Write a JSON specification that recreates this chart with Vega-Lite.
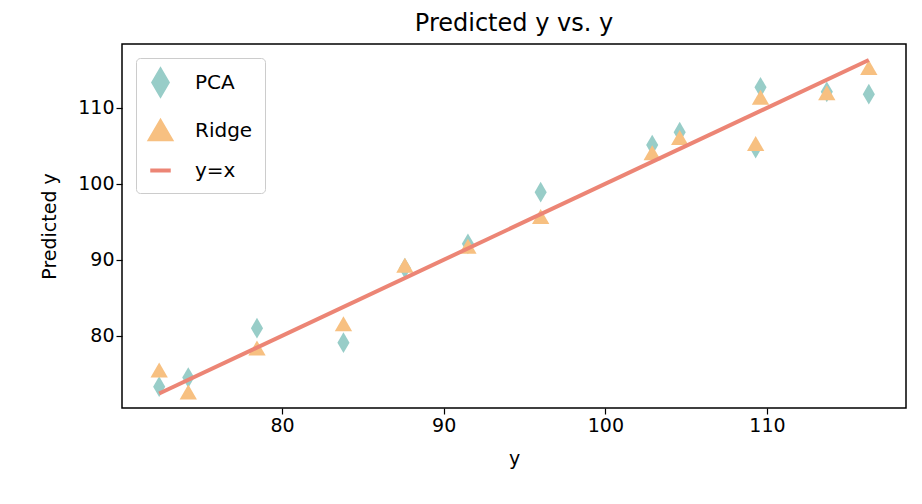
{
  "$schema": "https://vega.github.io/schema/vega-lite/v6.json",
  "autosize": "none",
  "width": 784,
  "height": 364,
  "padding": {"left": 122, "top": 44, "right": 16, "bottom": 96},
  "title": {"text": "Predicted y vs. y", "fontSize": 24, "fontWeight": "normal", "offset": 8},
  "datasets": {
    "pts": [
      {"y": 72.4, "model": "PCA", "pred": 73.3}, {"y": 72.4, "model": "Ridge", "pred": 75.5},
      {"y": 74.2, "model": "PCA", "pred": 74.5}, {"y": 74.2, "model": "Ridge", "pred": 72.6},
      {"y": 78.45, "model": "PCA", "pred": 81.0}, {"y": 78.45, "model": "Ridge", "pred": 78.4},
      {"y": 83.8, "model": "PCA", "pred": 79.1}, {"y": 83.8, "model": "Ridge", "pred": 81.6},
      {"y": 87.6, "model": "PCA", "pred": 88.9}, {"y": 87.6, "model": "Ridge", "pred": 89.3},
      {"y": 91.5, "model": "PCA", "pred": 92.1}, {"y": 91.5, "model": "Ridge", "pred": 91.8},
      {"y": 96.0, "model": "PCA", "pred": 98.9}, {"y": 96.0, "model": "Ridge", "pred": 95.7},
      {"y": 102.9, "model": "PCA", "pred": 105.1}, {"y": 102.9, "model": "Ridge", "pred": 104.1},
      {"y": 104.6, "model": "PCA", "pred": 106.8}, {"y": 104.6, "model": "Ridge", "pred": 106.1},
      {"y": 109.6, "model": "PCA", "pred": 112.7}, {"y": 109.6, "model": "Ridge", "pred": 111.4},
      {"y": 109.3, "model": "PCA", "pred": 104.7}, {"y": 109.3, "model": "Ridge", "pred": 105.3},
      {"y": 113.7, "model": "PCA", "pred": 112.1}, {"y": 113.7, "model": "Ridge", "pred": 112.0},
      {"y": 116.3, "model": "PCA", "pred": 111.8}, {"y": 116.3, "model": "Ridge", "pred": 115.3}
    ],
    "line": [
      {"y": 72.4, "model": "y=x", "pred": 72.4},
      {"y": 116.3, "model": "y=x", "pred": 116.3}
    ]
  },
  "encoding": {
    "x": {"field": "y", "type": "quantitative", "title": "y",
      "scale": {"domain": [70.1, 118.6], "nice": false, "zero": false},
      "axis": {"values": [80, 90, 100, 110], "titlePadding": 14}},
    "y": {"field": "pred", "type": "quantitative", "title": "Predicted y",
      "scale": {"domain": [70.5, 118.4], "nice": false, "zero": false},
      "axis": {"values": [80, 90, 100, 110], "titlePadding": 18}},
    "color": {"field": "model", "type": "nominal", "title": null,
      "scale": {"domain": ["PCA", "Ridge", "y=x"], "range": ["#98cdc8", "#f7c081", "#ec8575"]},
      "legend": {"orient": "none", "legendX": 14, "legendY": 14, "symbolSize": 420, "labelFontSize": 20,
        "strokeColor": "#cccccc", "fillColor": "white", "padding": 12, "cornerRadius": 4, "rowPadding": 10,
        "symbolStrokeWidth": 4, "labelOffset": 22}},
    "shape": {"field": "model", "type": "nominal", "title": null,
      "scale": {"domain": ["PCA", "Ridge", "y=x"], "range": ["M0,-1.2L0.7,0L0,1.2L-0.7,0Z", "triangle-up", "stroke"]}}
  },
  "layer": [
    {"data": {"name": "pts"}, "mark": {"type": "point", "filled": true, "opacity": 1, "size": 300}},
    {"data": {"name": "line"}, "mark": {"type": "line", "strokeWidth": 4},
      "encoding": {"shape": {"value": "stroke"}}}
  ],
  "config": {
    "font": "DejaVu Sans",
    "view": {"stroke": "black", "strokeWidth": 1.5},
    "axis": {"grid": false, "domain": false, "labelFontSize": 19, "titleFontSize": 19, "titleFontWeight": "normal",
      "tickColor": "black", "labelColor": "black", "titleColor": "black", "tickSize": 6, "tickWidth": 1.2}
  }
}
